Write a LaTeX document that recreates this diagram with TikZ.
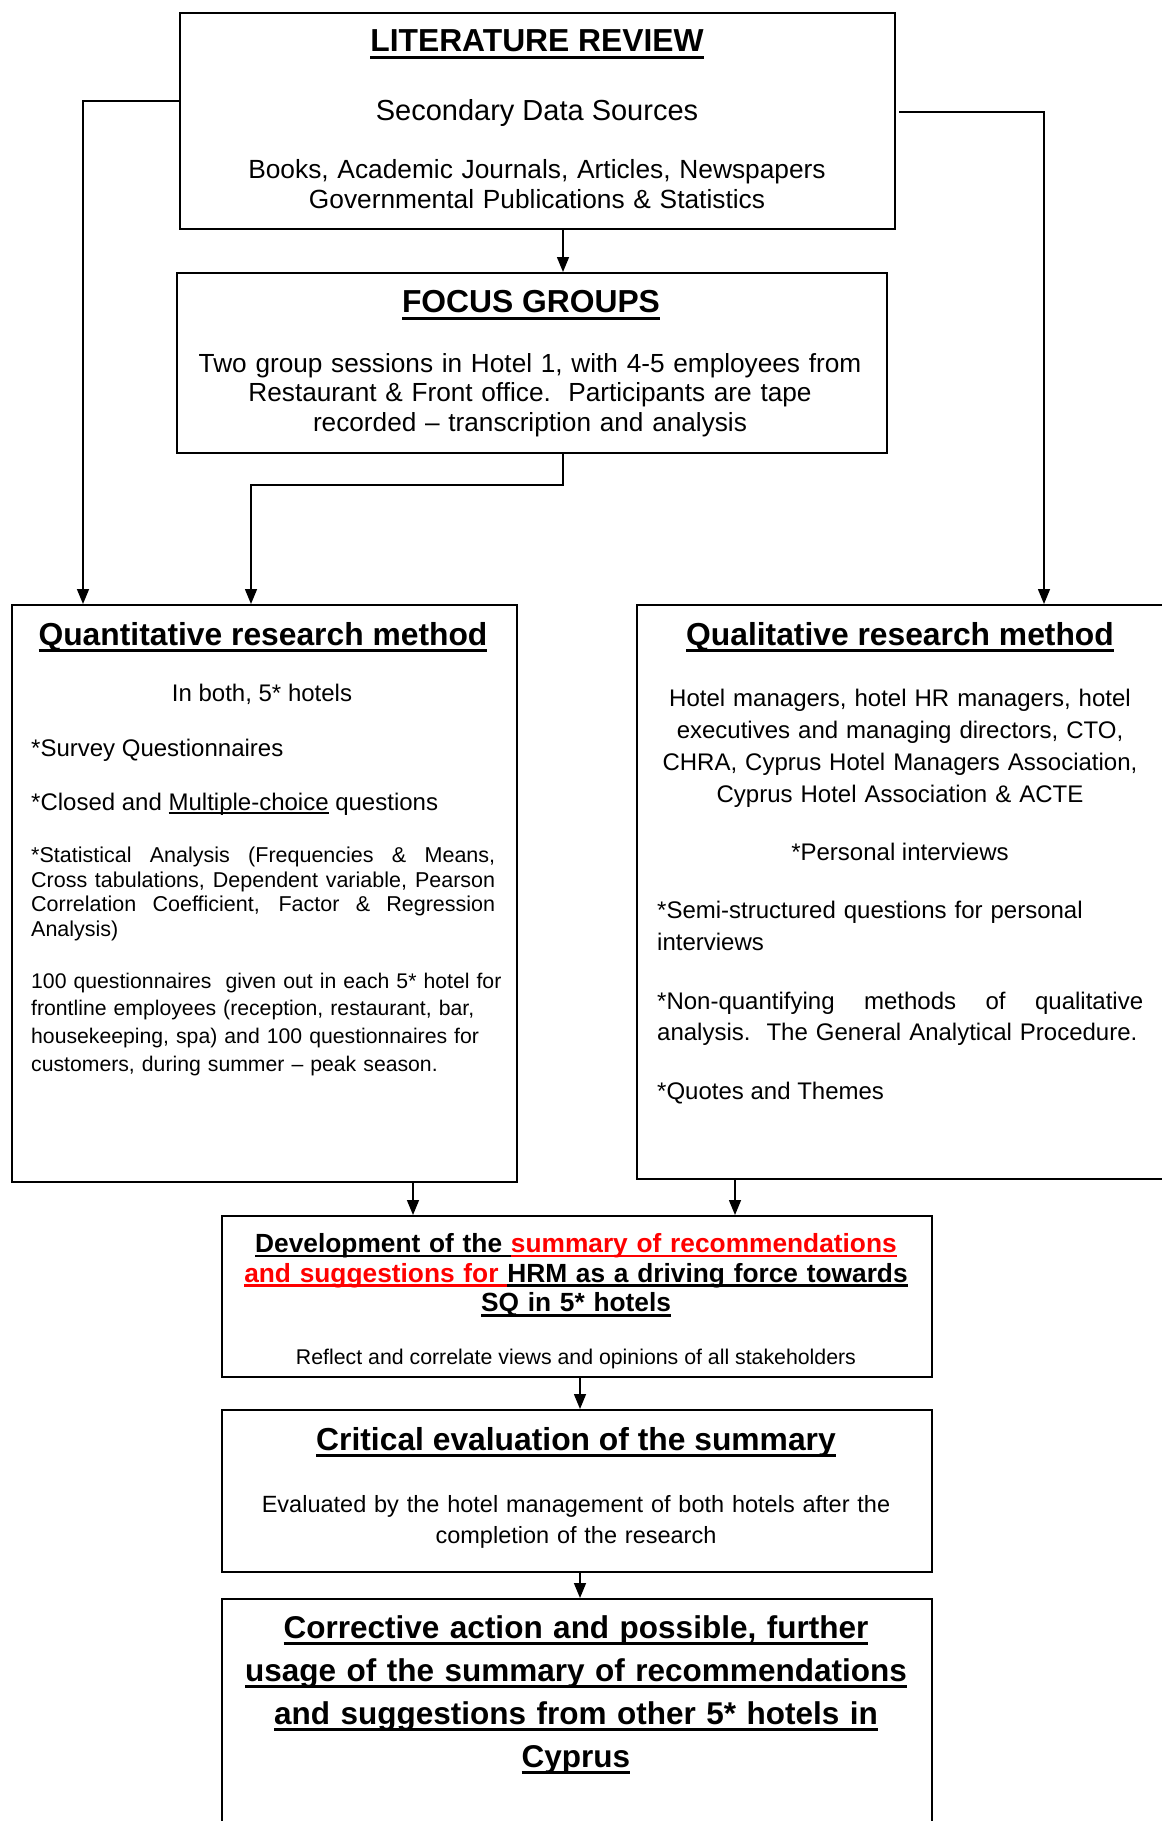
\documentclass[tikz,border=0pt]{standalone}
\usepackage{fontspec}
\setmainfont{Liberation Sans}
\usetikzlibrary{arrows.meta,calc}
\definecolor{accentred}{RGB}{255,0,0}

% underline drawn as a rule below the baseline: \ulpos = gap, \ulthk = thickness
\newdimen\ulpos \newdimen\ulthk
\newcommand\ulx[1]{\leavevmode\setbox0=\hbox{#1}\rlap{\vrule width\wd0 height-\ulpos depth\dimexpr\ulpos+\ulthk\relax}\box0}
\newcommand\ulbig[1]{{\ulpos=4pt\ulthk=3.2pt\ulx{#1}}}
\newcommand\ulmid[1]{{\ulpos=2.4pt\ulthk=2.6pt\ulx{#1}}}
\newcommand\ulthin[1]{{\ulpos=2.2pt\ulthk=1.3pt\ulx{#1}}}
\newcommand\fsz[2]{\fontsize{#1}{#2}\selectfont}
% a fully justified line: word spaces stretch to fill the given width
\newcommand\jline[2]{\leavevmode\hbox to #1{\spaceskip=.278em plus 1fil\relax #2}}

\tikzset{
  box/.style={draw, line width=2pt, inner sep=0pt, anchor=north west},
  arr/.style={line width=1.5pt, -{Triangle[length=15pt,width=12pt]}},
  txt/.style={inner sep=0pt, anchor=base},
  ttl/.style={inner sep=0pt, anchor=base, font=\bfseries\fsz{31.8}{43}},
  cpara/.style={inner sep=0pt, anchor=base, text width=#1, align=center},
  lpara/.style={inner sep=0pt, anchor=base west, text width=#1, align=left},
}

\begin{document}
\begin{tikzpicture}[x=1pt, y=-1pt]
\useasboundingbox (0,0) rectangle (1162,1821);

% ---------- boxes ----------
\node[box, minimum width=715pt, minimum height=216pt] (lit)   at (179,12)   {};
\node[box, minimum width=710pt, minimum height=180pt] (focus) at (176,272)  {};
\node[box, minimum width=505pt, minimum height=577pt] (quant) at (11,604)   {};
\node[box, minimum width=529pt, minimum height=574pt] (qual)  at (636,604)  {};
\node[box, minimum width=710pt, minimum height=161pt] (dev)   at (221,1215) {};
\node[box, minimum width=710pt, minimum height=162pt] (crit)  at (221,1409) {};
\node[box, minimum width=710pt, minimum height=237pt] (corr)  at (221,1598) {};

% ---------- literature review ----------
\node[ttl] (litT) at (537,51.7) {\ulbig{LITERATURE REVIEW}};
\node[txt, font=\fsz{29}{33}] (litS) at (537,120) {Secondary Data Sources};
\node[cpara=700pt, font=\fsz{26.3}{30.5}] (litB) at (537,178.2)
  {Books, Academic Journals, Articles, Newspapers\\Governmental Publications \& Statistics};

% ---------- focus groups ----------
\node[ttl] (focT) at (531,312.7) {\ulbig{FOCUS GROUPS}};
\node[cpara=700pt, font=\fsz{26.2}{29.8}] (focB) at (530,372)
  {Two group sessions in Hotel 1, with 4-5 employees from\\Restaurant \& Front office.\ \ Participants are tape\\recorded -- transcription and analysis};

% ---------- quantitative ----------
\node[ttl] (quantT) at (263,645) {\ulbig{Quantitative research method}};
\node[txt, font=\fsz{24}{28}] (quantA) at (262,701.6) {In both, 5* hotels};
\node[txt, anchor=base west, font=\fsz{24}{28}] (quantB) at (31,756) {*Survey Questionnaires};
\node[txt, anchor=base west, font=\fsz{24}{28}] (quantC) at (31,810) {*Closed and \ulthin{Multiple-choice} questions};
\node[lpara=464pt, font=\fsz{21.5}{24.7}] (quantD) at (31,862.3)
  {\jline{464pt}{*Statistical Analysis (Frequencies \& Means,}\\
   \jline{464pt}{Cross tabulations, Dependent variable, Pearson}\\
   \jline{464pt}{Correlation Coefficient, Factor \& Regression}\\
   Analysis)};
\node[lpara=500pt, font=\fsz{21.2}{27.7}] (quantE) at (31,988)
  {100 questionnaires\ \ given out in each 5* hotel for\\frontline employees (reception, restaurant, bar,\\housekeeping, spa) and 100 questionnaires for\\customers, during summer -- peak season.};

% ---------- qualitative ----------
\node[ttl] (qualT) at (900,645) {\ulbig{Qualitative research method}};
\node[cpara=520pt, font=\fsz{24}{32}] (qualA) at (900,706.7)
  {Hotel managers, hotel HR managers, hotel\\executives and managing directors, CTO,\\CHRA, Cyprus Hotel Managers Association,\\Cyprus Hotel Association \& ACTE};
\node[txt, font=\fsz{24}{32}] (qualB) at (900,860) {*Personal interviews};
\node[lpara=486pt, font=\fsz{24}{31.7}] (qualC) at (657,918.3)
  {*Semi-structured questions for personal\\interviews};
\node[lpara=486pt, font=\fsz{24}{31}] (qualD) at (657,1009.2)
  {\jline{486pt}{*Non-quantifying methods of qualitative}\\analysis.\ \ The General Analytical Procedure.};
\node[txt, anchor=base west, font=\fsz{24}{31}] (qualE) at (657,1099) {*Quotes and Themes};

% ---------- development of the summary ----------
\node[cpara=700pt, font=\bfseries\fsz{26.3}{29.6}] (devT) at (576,1252.4)
  {\ulmid{Development of the }\textcolor{accentred}{\ulmid{summary of recommendations}}\\
   \textcolor{accentred}{\ulmid{and suggestions for }}\ulmid{HRM as a driving force towards}\\
   \ulmid{SQ in 5* hotels}};
\node[txt, font=\fsz{21.3}{25}] (devB) at (576,1364) {Reflect and correlate views and opinions of all stakeholders};

% ---------- critical evaluation ----------
\node[ttl] (critT) at (576,1450) {\ulbig{Critical evaluation of the summary}};
\node[cpara=700pt, font=\fsz{23.5}{31}] (critB) at (576,1512)
  {Evaluated by the hotel management of both hotels after the\\completion of the research};

% ---------- corrective action ----------
\node[cpara=700pt, font=\bfseries\fsz{31.5}{43}] (corrT) at (576,1638)
  {\ulbig{Corrective action and possible, further}\\
   \ulbig{usage of the summary of recommendations}\\
   \ulbig{and suggestions from other 5* hotels in}\\
   \ulbig{Cyprus}};

% ---------- connectors ----------
\coordinate (trunkL) at (83,101);
\coordinate (startR) at (899,112);
\coordinate (trunkR) at (1044,0);
\coordinate (colF)   at (563,0);
\coordinate (bendQ)  at (251,485);
\coordinate (colA)   at (413,0);
\coordinate (colB)   at (735,0);
\coordinate (colC)   at (580,0);

\draw[arr] (lit.west |- trunkL) -| (trunkL |- quant.north);
\draw[arr] (startR) -| (trunkR |- qual.north);
\draw[arr] (colF |- lit.south) -- (colF |- focus.north);
\draw[arr] (colF |- focus.south) |- (bendQ) -- (bendQ |- quant.north);
\draw[arr] (colA |- quant.south) -- (colA |- dev.north);
\draw[arr] (colB |- qual.south) -- (colB |- dev.north);
\draw[arr] (colC |- dev.south) -- (colC |- crit.north);
\draw[arr] (colC |- crit.south) -- (colC |- corr.north);
\end{tikzpicture}
\end{document}
